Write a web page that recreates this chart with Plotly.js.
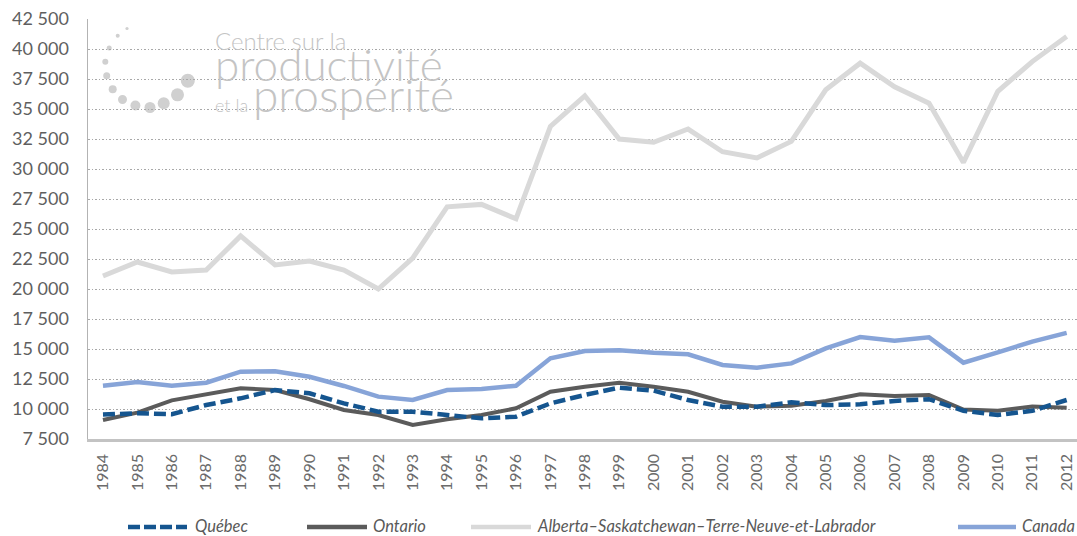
<!DOCTYPE html>
<html>
<head>
<meta charset="utf-8">
<script src="https://cdn.plot.ly/plotly-3.0.1.min.js"></script>
<style>html,body{margin:0;padding:0;background:#fff;}#chart{width:1077px;height:536px;}</style>
</head>
<body>
<div id="chart"></div>
<script>
const years = [1984,1985,1986,1987,1988,1989,1990,1991,1992,1993,1994,1995,1996,1997,1998,1999,2000,2001,2002,2003,2004,2005,2006,2007,2008,2009,2010,2011,2012];
const quebec = [9540,9640,9570,10330,10890,11580,11310,10470,9780,9780,9500,9220,9360,10470,11170,11780,11530,10750,10190,10190,10560,10330,10390,10670,10820,9850,9500,9850,10750];
const ontario = [9080,9700,10720,11250,11720,11580,10810,9920,9500,8670,9140,9500,10060,11440,11860,12190,11860,11440,10610,10190,10280,10670,11220,11080,11170,9950,9850,10200,10100];
const alberta = [21080,22250,21420,21580,24420,22000,22330,21580,20000,22580,26850,27050,25850,33550,36100,32500,32230,33330,31440,30920,32300,36600,38820,36850,35480,30550,36480,38950,41050];
const canada = [11940,12250,11940,12190,13110,13140,12690,11920,11030,10750,11580,11670,11940,14220,14830,14890,14690,14560,13670,13440,13800,15050,16000,15690,15970,13860,14720,15620,16340];
const seriesNames = ['Québec','Ontario','Alberta–Saskatchewan–Terre-Neuve-et-Labrador','Canada'];
const yTicks = [7500,10000,12500,15000,17500,20000,22500,25000,27500,30000,32500,35000,37500,40000,42500];

const colors = {q:'#15558f', o:'#5b5b5b', a:'#d9d9d9', c:'#87a4d8'};
const W = 1077, H = 536, L = 88, R = 0, T = 19, B = 97;
const pw = W - L - R, ph = H - T - B;
const px = x => (x - L) / pw;
const py = y => (H - B - y) / ph;

const traces = [
  {x: years, y: alberta, name: seriesNames[2], mode: 'lines', line: {color: colors.a, width: 5}},
  {x: years, y: canada, name: seriesNames[3], mode: 'lines', line: {color: colors.c, width: 4.5}},
  {x: years, y: ontario, name: seriesNames[1], mode: 'lines', line: {color: colors.o, width: 4}},
  {x: years, y: quebec, name: seriesNames[0], mode: 'lines', line: {color: colors.q, width: 4.5, dash: '12px,5px'}}
];

const shapes = [];
const annotations = [];
// logo dots (decoration)
const dots = [[127,28.5,1.6],[117.7,35.7,2],[109.2,48,2.5],[105.3,61.7,3],[106.7,75.8,3.5],[112.7,89.3,4],[122.5,99.5,4.5],[135.4,105.5,5],[150,107.5,5.5],[163.7,103.3,6],[177.5,94.8,6.5],[187.8,80.8,7]];
dots.forEach(d => shapes.push({type:'circle', xref:'paper', yref:'paper', x0:px(d[0]-d[2]), x1:px(d[0]+d[2]), y0:py(d[1]+d[2]), y1:py(d[1]-d[2]), fillcolor:'#d0d0d0', line:{width:0}, layer:'below'}));
annotations.push({
  xref:'paper', yref:'paper', x:px(213), y:py(24), xanchor:'left', yanchor:'top', align:'left', showarrow:false,
  text:'Centre sur la<br><span style="font-size:44px">productivité</span><br><span style="font-size:18px">et la </span><span style="font-size:46px">prospérité</span>',
  font:{family:'Lato, sans-serif', size:24, color:'#c4c4c4', weight:300}
});

// custom legend
const leg = [
  {name: seriesNames[0], c: colors.q, x0:128, x1:187, tx:194, dash:'12px,4px'},
  {name: seriesNames[1], c: colors.o, x0:307, x1:367, tx:372, dash:'solid'},
  {name: seriesNames[2], c: colors.a, x0:471, x1:531, tx:536, dash:'solid'},
  {name: seriesNames[3], c: colors.c, x0:958, x1:1016, tx:1021, dash:'solid'}
];
const ly = 526;
leg.forEach(e => {
  shapes.push({type:'line', xref:'paper', yref:'paper', x0:px(e.x0), x1:px(e.x1), y0:py(ly+1), y1:py(ly+1), line:{color:e.c, width:4.5, dash:e.dash}});
  annotations.push({xref:'paper', yref:'paper', x:px(e.tx), y:py(ly), xanchor:'left', yanchor:'middle', showarrow:false, borderpad:0, text:e.name, font:{family:'Lato, sans-serif', size:16.5, color:'#595959', style:'italic'}});
});

const layout = {
  width: W, height: H,
  margin: {l: L, r: R, t: T, b: B, pad: 0},
  paper_bgcolor: '#ffffff', plot_bgcolor: '#ffffff',
  separators: ', ',
  showlegend: false,
  xaxis: {
    range: [1983.565, 2012.3], tickmode: 'array', tickvals: years, ticktext: years.map(String),
    tickangle: -90, showgrid: false, zeroline: false, showline: true, linecolor: '#c3c3c3', linewidth: 2.5,
    ticks: '', ticklabelstandoff: 6, ticklabeloverflow: 'allow',
    tickfont: {family: 'Lato, sans-serif', size: 16, color: '#6b6b6b'}
  },
  yaxis: {
    range: [7500, 42500], tickmode: 'array', tickvals: yTicks, tickformat: ',d',
    showgrid: true, gridcolor: '#a8a8a8', gridwidth: 1, griddash: '1.5px,2px',
    zeroline: false, showline: true, linecolor: '#b3b3b3', linewidth: 1.5,
    ticks: '', ticklabelstandoff: 14,
    tickfont: {family: 'Lato, sans-serif', size: 18, color: '#5f5f5f'}
  },
  shapes: shapes,
  annotations: annotations
};
Plotly.newPlot('chart', traces, layout, {displayModeBar: false, staticPlot: true});
</script>
</body>
</html>
